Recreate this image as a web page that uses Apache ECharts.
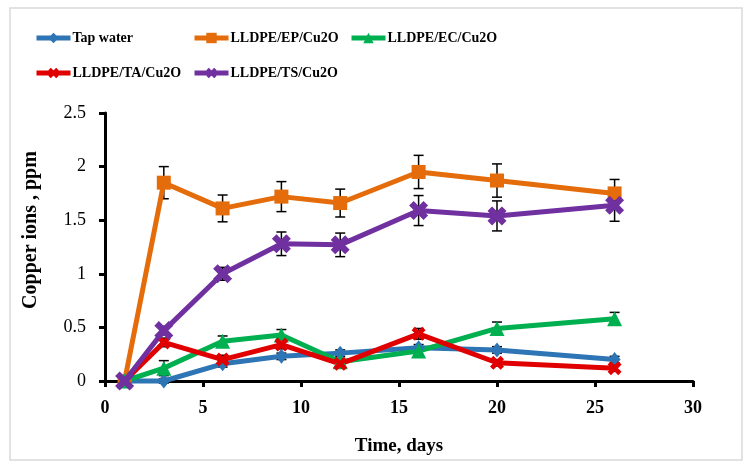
<!DOCTYPE html>
<html><head><meta charset="utf-8">
<script src="https://cdn.jsdelivr.net/npm/echarts@6/dist/echarts.min.js"></script>
<style>html,body{margin:0;padding:0;background:#fff}#c{width:753px;height:471px}</style>
</head><body><div id="c"></div>
<script>
const days = [1, 3, 6, 9, 12, 16, 20, 26];
const seriesNames = ['Tap water', 'LLDPE/EP/Cu2O', 'LLDPE/EC/Cu2O', 'LLDPE/TA/Cu2O', 'LLDPE/TS/Cu2O'];
const tapWater = [0, 0.0, 0.16, 0.23, 0.26, 0.31, 0.29, 0.20];
const lldpeEP = [0, 1.85, 1.61, 1.72, 1.66, 1.95, 1.87, 1.75];
const lldpeEC = [0, 0.12, 0.37, 0.43, 0.18, 0.28, 0.49, 0.58];
const lldpeTA = [0, 0.36, 0.20, 0.34, 0.16, 0.44, 0.17, 0.12];
const lldpeTS = [0, 0.47, 1.00, 1.28, 1.27, 1.59, 1.54, 1.64];
const errTap = [0, 0.02, 0.03, 0.03, 0.03, 0.03, 0.03, 0.03];
const errEP = [0, 0.15, 0.125, 0.14, 0.13, 0.155, 0.155, 0.13];
const errEC = [0, 0.07, 0.05, 0.05, 0.03, 0.04, 0.06, 0.06];
const errTA = [0, 0.04, 0.04, 0.04, 0.04, 0.05, 0.03, 0.03];
const errTS = [0, 0.04, 0.06, 0.11, 0.11, 0.14, 0.14, 0.15];
const xTicks = [0, 5, 10, 15, 20, 25, 30];
const yTicks = [0, 0.5, 1, 1.5, 2, 2.5];

const FONT = '"Liberation Serif", "DejaVu Serif", serif';
const colors = ['#2E75B6', '#E46C0A', '#00B050', '#E00000', '#7030A0'];
const xPath = 'path://M0,2.4 L2.4,0 L5,2.6 L7.6,0 L10,2.4 L7.4,5 L10,7.6 L7.6,10 L5,7.4 L2.4,10 L0,7.6 L2.6,5 Z';
const symbols = ['diamond', 'rect', 'triangle', xPath, xPath];
const symbolSizes = [[12, 15], 14, 15, 14, 19];
const values = [tapWater, lldpeEP, lldpeEC, lldpeTA, lldpeTS];
const errs = [errTap, errEP, errEC, errTA, errTS];

const chart = echarts.init(document.getElementById('c'));

const lineSeries = seriesNames.map((n, i) => ({
  name: n,
  type: 'line',
  data: days.map((d, k) => [d, values[i][k]]),
  symbol: symbols[i],
  symbolSize: symbolSizes[i],
  showAllSymbol: true,
  clip: false,
  z: 3,
  lineStyle: { color: colors[i], width: 5 },
  itemStyle: { color: colors[i] },
  emphasis: { disabled: true },
  animation: false
}));

const errSeries = seriesNames.map((n, i) => ({
  type: 'custom',
  z: 2,
  silent: true,
  animation: false,
  data: days.map((d, k) => [d, values[i][k], errs[i][k]]),
  renderItem: function (params, api) {
    const x = api.value(0), v = api.value(1), e = api.value(2);
    if (!e) return null;
    const top = api.coord([x, v + e]);
    const bot = api.coord([x, v - e]);
    const hw = 5;
    const st = { stroke: '#000', lineWidth: 1.5 };
    return {
      type: 'group',
      children: [
        { type: 'line', shape: { x1: top[0], y1: top[1], x2: bot[0], y2: bot[1] }, style: st },
        { type: 'line', shape: { x1: top[0] - hw, y1: top[1], x2: top[0] + hw, y2: top[1] }, style: st },
        { type: 'line', shape: { x1: bot[0] - hw, y1: bot[1], x2: bot[0] + hw, y2: bot[1] }, style: st }
      ]
    };
  }
}));

const legendPos = [[29, 26], [187, 26], [344, 26], [29, 61], [187, 61]];
const legends = seriesNames.map((n, i) => ({
  data: [n],
  left: legendPos[i][0],
  top: legendPos[i][1],
  itemWidth: 34,
  itemHeight: 13,
  itemGap: 4,
  selectedMode: false,
  lineStyle: { width: 5 },
  textStyle: { fontFamily: FONT, fontWeight: 'bold', fontSize: 14, color: '#000', padding: [0, 0, 0, -3] }
}));

chart.setOption({
  animation: false,
  backgroundColor: '#fff',
  graphic: [{
    type: 'rect', shape: { x: 10, y: 8, width: 732, height: 452 },
    style: { fill: 'none', stroke: '#d9d9d9', lineWidth: 1.5 }, silent: true, z: -1
  }],
  legend: legends,
  grid: { left: 105, right: 60, top: 113, bottom: 90, containLabel: false },
  xAxis: {
    type: 'value', min: xTicks[0], max: xTicks[xTicks.length - 1], interval: xTicks[1] - xTicks[0],
    name: 'Time, days', nameLocation: 'middle', nameGap: 56,
    nameTextStyle: { fontFamily: FONT, fontWeight: 'bold', fontSize: 19, color: '#000' },
    axisLine: { lineStyle: { color: '#000', width: 3 } },
    axisTick: { show: true, inside: false, length: 6, lineStyle: { color: '#000', width: 3 } },
    axisLabel: { fontFamily: FONT, fontWeight: 'bold', fontSize: 18, color: '#000', margin: 18 },
    splitLine: { show: false }
  },
  yAxis: {
    type: 'value', min: yTicks[0], max: yTicks[yTicks.length - 1], interval: yTicks[1] - yTicks[0],
    name: 'Copper ions , ppm', nameLocation: 'middle', nameGap: 64,
    nameTextStyle: { fontFamily: FONT, fontWeight: 'bold', fontSize: 20, color: '#000', padding: [0, 0, 0, 34] },
    axisLine: { show: true, lineStyle: { color: '#000', width: 3 } },
    axisTick: { show: true, inside: false, length: 6, lineStyle: { color: '#000', width: 3 } },
    axisLabel: { fontFamily: FONT, fontSize: 18, color: '#000', margin: 19 },
    splitLine: { show: false }
  },
  series: errSeries.concat(lineSeries)
});
</script></body></html>
